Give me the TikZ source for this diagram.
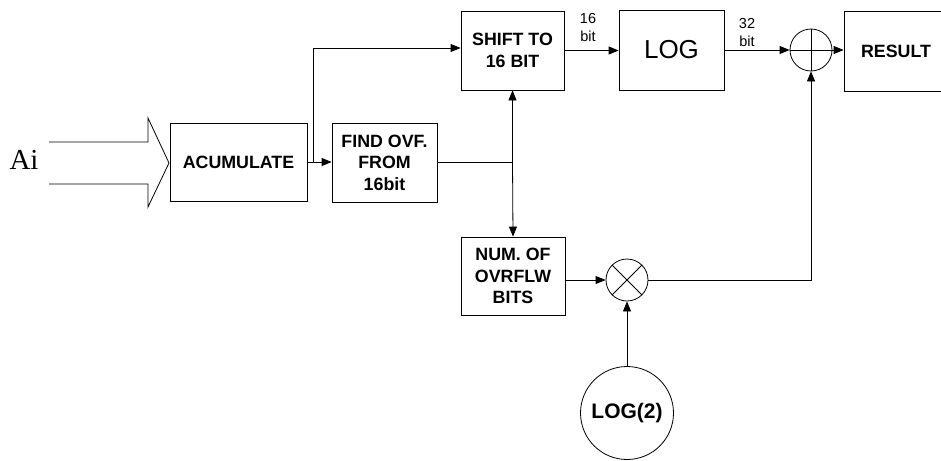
\documentclass[tikz,border=0pt]{standalone}
\usepackage{fontspec}
\setmainfont{Liberation Sans}
\newfontfamily\seriffont{Liberation Serif}
\usetikzlibrary{arrows.meta}
\begin{document}
\begin{tikzpicture}[x=1pt,y=-1pt,line width=0.8pt,
  blk/.style={draw,rectangle,inner sep=0pt,align=center,font=\bfseries\fontsize{17.8}{21.5}\selectfont},
  circ/.style={draw,circle,inner sep=0pt},
  lbl/.style={inner sep=0pt,align=center,font=\fontsize{14.5}{18}\selectfont},
  arr/.style={-{Triangle[length=10pt,width=8pt]}}]
\useasboundingbox (0,0) rectangle (941,460);
% input arrow
\node[inner sep=0pt,font=\seriffont\fontsize{29}{29}\selectfont] (ai) at (24,160) {Ai};
\draw (49,142) -- (148,142) -- (148,118) -- (169,163) -- (148,207) -- (148,184) -- (49,184);
% blocks
\node[blk,minimum width=137pt,minimum height=78pt] (acc) at (238.5,162) {ACUMULATE};
\node[blk,minimum width=105pt,minimum height=79pt] (find) at (384.5,162.5) {FIND OVF.\\FROM\\16bit};
\node[blk,minimum width=103pt,minimum height=79pt] (shift) at (512.5,50.5) {SHIFT TO\\16 BIT};
\node[draw,rectangle,inner sep=0pt,minimum width=105pt,minimum height=80pt,font=\fontsize{26}{30}\selectfont] (log) at (671.5,50) {LOG};
\node[blk,minimum width=104pt,minimum height=80pt] (result) at (896,51) {RESULT};
\node[blk,minimum width=104pt,minimum height=78pt] (num) at (513,276) {NUM. OF\\OVRFLW\\BITS};
% circles
\node[circ,minimum size=42pt] (plus) at (811,50) {};
\node[circ,minimum size=42pt] (mul) at (627,280) {};
\node[circ,minimum size=93pt,font=\bfseries\fontsize{21}{25}\selectfont] (log2) at (627,413) {LOG(2)};
\draw (plus.north) -- (plus.south);
\draw (plus.west) -- (plus.east);
\draw (mul.north west) -- (mul.south east);
\draw (mul.north east) -- (mul.south west);
% labels
\node[lbl] (l16) at (588,28) {16\\bit};
\node[lbl] (l32) at (747,33) {32\\bit};
% connectors
\coordinate (j1) at (313,162);
\coordinate (j2) at (512.5,162);
\draw[arr] (acc.east) -- (acc.east -| find.west);
\draw[arr] (j1) |- ([yshift=2.5pt]shift.west);
\draw (find.east |- j2) -- (j2);
\draw[arr] (j2) -- (shift.south);
\draw[arr] (j2) -- (num.north);
\draw[arr] (shift.east) -- (shift.east -| log.west);
\draw[arr] (log.east) -- (plus.west);
\draw[arr] (plus.east) -- (plus.east -| result.west);
\draw[arr] (num.east |- mul) -- (mul.west);
\draw[arr] (mul.east) -| (plus.south);
\draw[arr] (log2.north) -- (mul.south);
\end{tikzpicture}
\end{document}
